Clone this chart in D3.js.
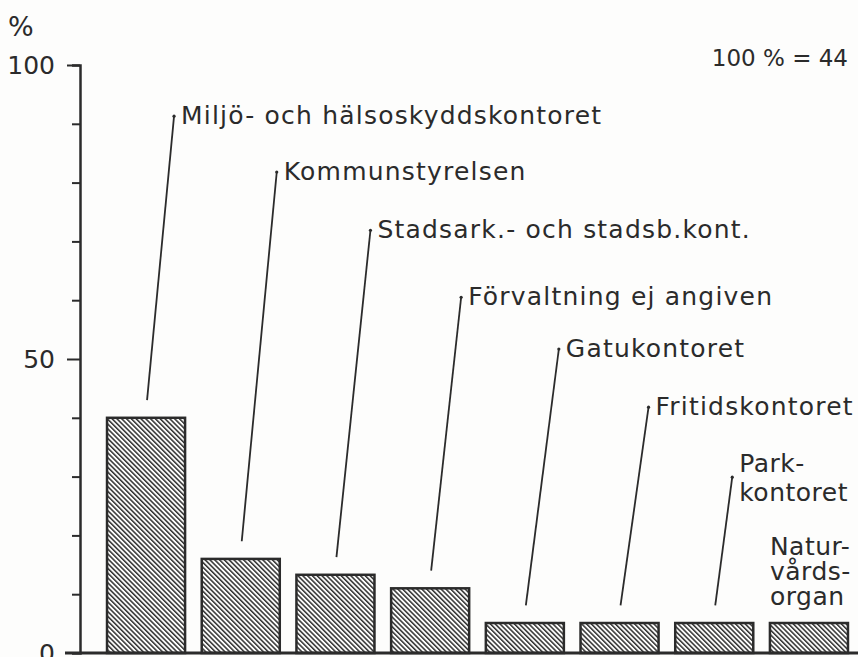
<!DOCTYPE html>
<html lang="sv">
<head>
  <meta charset="UTF-8">
  <title>Förvaltningar</title>
  <script src="https://d3js.org/d3.v7.min.js"></script>
  <style>
    body { margin: 0; background: #fdfdfc; }
    svg { display: block; font-family: "DejaVu Sans", sans-serif; }
    .lbl { font-size: 25px; fill: #2b2b2b; letter-spacing: 1.2px; }
    .tick text { font-size: 25px; fill: #2b2b2b; font-family: "DejaVu Sans", sans-serif; }
  </style>
</head>
<body>
<svg width="858" height="657"></svg>
<script>
const categories = [
  "Miljö- och hälsoskyddskontoret",
  "Kommunstyrelsen",
  "Stadsark.- och stadsb.kont.",
  "Förvaltning ej angiven",
  "Gatukontoret",
  "Fritidskontoret",
  "Parkkontoret",
  "Naturvårdsorgan"
];
const labelLines = [
  ["Miljö- och hälsoskyddskontoret"],
  ["Kommunstyrelsen"],
  ["Stadsark.- och stadsb.kont."],
  ["Förvaltning ej angiven"],
  ["Gatukontoret"],
  ["Fritidskontoret"],
  ["Park-", "kontoret"],
  ["Natur-", "vårds-", "organ"]
];
const values = [40, 16, 13.3, 11, 5.1, 5.1, 5.1, 5.1];
const yTicks = [0, 10, 20, 30, 40, 50, 60, 70, 80, 90, 100];
const yLabels = {0: "0", 50: "50", 100: "100"};
const baseNote = "100 % = 44";

const svg = d3.select("svg");
const ink = "#2b2b2b";

const x = d3.scaleBand().domain(categories).range([98.7, 856.3])
  .paddingInner(0.176).paddingOuter(0.088);
const y = d3.scaleLinear().domain([0, 100]).range([653, 65]);
const axisX = 80;

// hatch pattern, lines running top-left to bottom-right
svg.append("defs").append("pattern")
  .attr("id", "hatch")
  .attr("patternUnits", "userSpaceOnUse")
  .attr("width", 3.4).attr("height", 10)
  .attr("patternTransform", "rotate(-45)")
  .append("rect")
  .attr("width", 1.5).attr("height", 10)
  .attr("fill", "#303030");

// y axis
const yAxis = svg.append("g")
  .attr("transform", `translate(${axisX},0)`)
  .call(d3.axisLeft(y).tickValues(yTicks).tickSizeOuter(0).tickSize(8).tickPadding(17)
    .tickFormat(d => yLabels[d] || ""));
yAxis.select(".domain").attr("stroke", ink).attr("stroke-width", 2.5);
yAxis.selectAll(".tick line")
  .attr("stroke", ink).attr("stroke-width", 2)
  .attr("x2", d => yLabels[d] ? -13 : -8);
yAxis.selectAll(".tick").filter(d => d === 0).select("line").remove();

svg.append("text").attr("class", "lbl")
  .attr("x", 8).attr("y", 36).style("font-size", "27px").text("%");

// baseline
svg.append("line")
  .attr("x1", 65).attr("x2", 858)
  .attr("y1", y(0)).attr("y2", y(0))
  .attr("stroke", ink).attr("stroke-width", 3);

// bars
svg.selectAll("rect.bar")
  .data(values)
  .join("rect")
  .attr("class", "bar")
  .attr("x", (d, i) => x(categories[i]))
  .attr("y", d => y(d))
  .attr("width", x.bandwidth())
  .attr("height", d => y(0) - y(d))
  .attr("fill", "url(#hatch)")
  .attr("stroke", ink)
  .attr("stroke-width", 2.5);

// leader lines and labels (anchor levels in %)
const anchorLevel = [91.3, 81.8, 71.9, 60.5, 51.7, 41.8, 29.9, null];
const anchorShift = [28, 36, 35, 31, 34, 29, 18, 0];
const gap = 3; // % above bar top where the leader ends

categories.forEach((c, i) => {
  const cx = x(c) + x.bandwidth() / 2;
  const lines = labelLines[i];
  if (anchorLevel[i] == null) {
    // text sits straight above the bar
    svg.append("text").attr("class", "lbl")
      .attr("x", x(c))
      .attr("y", y(values[i]) - 18 - (lines.length - 1) * 25)
      .style("letter-spacing", "0.5px")
      .selectAll("tspan").data(lines).join("tspan")
      .attr("x", x(c)).attr("dy", (d, j) => j ? 25 : 0)
      .text(d => d);
    return;
  }
  const ax = cx + anchorShift[i];
  const ay = y(anchorLevel[i]);
  svg.append("line")
    .attr("x1", ax).attr("y1", ay)
    .attr("x2", cx + 1).attr("y2", y(values[i] + gap))
    .attr("stroke", ink).attr("stroke-width", 1.8);
  svg.append("circle").attr("cx", ax).attr("cy", ay).attr("r", 1.6).attr("fill", ink);
  const multi = lines.length > 1;
  svg.append("text").attr("class", "lbl")
    .attr("x", ax + 7)
    .attr("y", multi ? ay - 5 : ay + 8)
    .style("letter-spacing", multi ? "0.5px" : null)
    .selectAll("tspan").data(lines).join("tspan")
    .attr("x", ax + 7).attr("dy", (d, j) => j ? 29 : 0)
    .text(d => d);
});

svg.append("text").attr("class", "lbl")
  .attr("x", 848).attr("y", 66).attr("text-anchor", "end")
  .style("font-size", "23px").style("letter-spacing", "0px")
  .text(baseNote);
</script>
</body>
</html>
